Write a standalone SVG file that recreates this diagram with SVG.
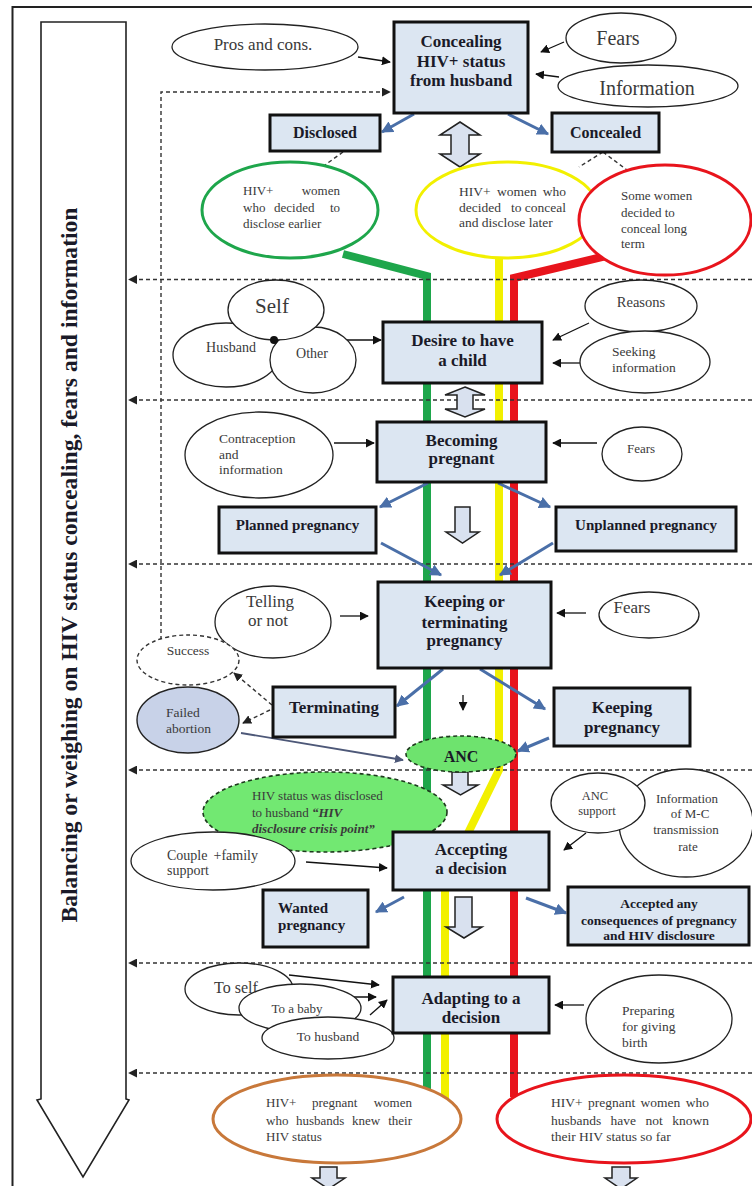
<svg xmlns="http://www.w3.org/2000/svg" width="752" height="1186" viewBox="0 0 752 1186">
<defs>
<style>
.box{fill:#dce6f2;stroke:#111;stroke-width:3}
.ell{fill:#fff;stroke:#222;stroke-width:1.3}
.bt{font-family:"Liberation Serif","Times New Roman",serif;font-weight:bold;fill:#1a1a28;text-anchor:middle}
.t{font-family:"Liberation Serif","Times New Roman",serif;fill:#3a3a3a}
.c{text-anchor:middle}
.e{text-anchor:end}
.blue{stroke:#4a6fa8;stroke-width:3;fill:none;marker-end:url(#ab)}
.thin{stroke:#111;stroke-width:1.3;fill:none;marker-end:url(#ak)}
.dash{stroke:#333;stroke-width:1.4;stroke-dasharray:4 3;fill:none}
.da{marker-end:url(#ad)}
.hollow{fill:#d9e1ef;stroke:#222;stroke-width:1.5}
.band{fill:none;stroke-width:8;stroke-linejoin:miter}
</style>
<marker id="ab" viewBox="0 0 10 10" refX="9" refY="5" markerWidth="12" markerHeight="12" markerUnits="userSpaceOnUse" orient="auto"><path d="M0,0 L10,5 L0,10 z" fill="#4a6fa8"/></marker>
<marker id="ak" viewBox="0 0 10 10" refX="9" refY="5" markerWidth="9" markerHeight="9" markerUnits="userSpaceOnUse" orient="auto"><path d="M0,0 L10,5 L0,10 z" fill="#111"/></marker>
<marker id="ad" viewBox="0 0 10 10" refX="9" refY="5" markerWidth="9" markerHeight="9" markerUnits="userSpaceOnUse" orient="auto"><path d="M0,0 L10,5 L0,10 z" fill="#222"/></marker>
<marker id="as" viewBox="0 0 10 10" refX="9" refY="5" markerWidth="9" markerHeight="9" markerUnits="userSpaceOnUse" orient="auto"><path d="M0,0 L10,5 L0,10 z" fill="#4d5878"/></marker>
</defs>
<rect width="752" height="1186" fill="#fff"/>
<!-- frame -->
<g id="frame">
<path d="M12.5,1186 V7 H752" fill="none" stroke="#222" stroke-width="2"/>
</g>
<!-- big arrow -->
<g id="big-arrow">
<path d="M41,22 H126 V1099 L129,1100 L83,1177 L37,1100 L41,1099 Z" fill="#fff" stroke="#222" stroke-width="1.6"/>
<text class="bt" font-size="23" transform="translate(77,565) rotate(-90)" textLength="715" lengthAdjust="spacingAndGlyphs">Balancing or weighing on HIV status concealing, fears and information</text>
</g>
<!-- colored bands -->
<g id="bands">
<path class="band" stroke="#1ea64b" d="M343,254 L427,276 V1090"/>
<path class="band" stroke="#f2f000" d="M499,258 V770 L445,880 V1104"/>
<path class="band" stroke="#e8141c" d="M606,256 L514,278 V1097"/>
</g>
<!-- connectors -->
<g id="connectors">
<path class="dash da" d="M752,279.5 H129"/>
<path class="dash da" d="M752,400 H129"/>
<path class="dash da" d="M752,564 H129"/>
<path class="dash da" d="M752,770 H129"/>
<path class="dash da" d="M752,963 H129"/>
<path class="dash da" d="M752,1073 H129"/>
<path class="dash da" d="M161,647 V92 H390"/>
<path class="dash" d="M343,152 L325,165"/>
<path class="dash" d="M603,152 L579,167"/>
<path class="dash" d="M603,152 L631,173"/>
<path class="dash da" d="M272,705 L234,673"/>
<path class="dash da" d="M270,710 L243,723"/>
<path class="thin" d="M358,57 L390,62"/>
<path class="thin" d="M564,42 L541,52"/>
<path class="thin" d="M559,77 L536,74"/>
<path class="thin" d="M274,340 H381"/>
<path class="thin" d="M589,323 L553,340"/>
<path class="thin" d="M580,363 H553"/>
<path class="thin" d="M334,443 H374"/>
<path class="thin" d="M597,443 H553"/>
<path class="thin" d="M340,616 H368"/>
<path class="thin" d="M586,613 H557"/>
<path class="thin" d="M463,695 V710"/>
<path class="thin" d="M306,862 L387,868"/>
<path class="thin" d="M586,833 L564,850"/>
<path class="thin" d="M699,840 V860"/>
<path class="thin" d="M289,975 L379,985"/>
<path class="thin" d="M333,997 H376"/>
<path class="thin" d="M370,1015 L387,1000"/>
<path class="thin" d="M584,1005 H555"/>
<path d="M241,733 L403,760" stroke="#4d5878" stroke-width="1.8" fill="none" marker-end="url(#as)"/>
<path class="blue" d="M414,114 L382,132"/>
<path class="blue" d="M508,114 L548,134"/>
<path class="blue" d="M428,483 L380,507"/>
<path class="blue" d="M498,483 L550,507"/>
<path class="blue" d="M381,543 L441,575"/>
<path class="blue" d="M553,543 L500,575"/>
<path class="blue" d="M443,669 L397,706"/>
<path class="blue" d="M480,669 L545,709"/>
<path class="blue" d="M549,738 L518,751"/>
<path class="blue" d="M404,897 L376,912"/>
<path class="blue" d="M526,898 L566,913"/>
<polygon class="hollow" points="460,122 480,135 469,135 469,154 480,154 460,167 440,154 451,154 451,135 440,135"/>
<polygon class="hollow" points="465,387 485,395 473,395 473,409 485,409 465,417 445,409 457,409 457,395 445,395"/>
<polygon class="hollow" points="455,507 470,507 470,532 479,532 462.5,543 446,532 455,532"/>
<polygon class="hollow" points="452,772 468,772 468,785 478,785 460.5,795 443,785 452,785"/>
<polygon class="hollow" points="455,897 472,897 472,927 482,927 464,938 446,927 455,927"/>
<polygon class="hollow" points="320,1167 337,1167 337,1178 345,1178 328.5,1189 312,1178 320,1178"/>
<polygon class="hollow" points="612,1167 630,1167 630,1178 637,1178 621,1189 605,1178 612,1178"/>
</g>
<!-- nodes -->
<g id="n-pros"><ellipse class="ell" cx="265" cy="47" rx="93" ry="23"/><text class="t c" x="263" y="50" font-size="17">Pros and cons.</text></g>
<g id="n-concealing"><rect class="box" x="394" y="22" width="134" height="91"/><text class="bt" font-size="17"><tspan x="461" y="47">Concealing</tspan><tspan x="461" y="67">HIV+ status</tspan><tspan x="461" y="86">from husband</tspan></text></g>
<g id="n-fears1"><ellipse class="ell" cx="621" cy="38" rx="55" ry="25"/><text class="t c" x="618" y="45" font-size="20">Fears</text></g>
<g id="n-info1"><ellipse class="ell" cx="648" cy="86" rx="90" ry="21"/><text class="t c" x="647" y="95" font-size="20">Information</text></g>
<g id="n-disclosed"><rect class="box" x="270" y="115" width="110" height="36"/><text class="bt" x="325" y="138" font-size="16">Disclosed</text></g>
<g id="n-concealed"><rect class="box" x="552" y="113" width="107" height="39"/><text class="bt" x="605.5" y="138" font-size="16">Concealed</text></g>
<g id="n-green"><ellipse cx="290" cy="210" rx="88" ry="48" fill="#fff" stroke="#1ea64b" stroke-width="3"/><text class="t" font-size="13"><tspan x="243" y="195">HIV+</tspan><tspan class="e" x="340" y="195">women</tspan><tspan x="243" y="212">who</tspan><tspan x="274" y="212">decided</tspan><tspan class="e" x="340" y="212">to</tspan><tspan x="243" y="228">disclose earlier</tspan></text></g>
<g id="n-yellow"><ellipse cx="507" cy="210" rx="91" ry="48" fill="#fff" stroke="#f2f000" stroke-width="3"/><text class="t" font-size="13.5"><tspan x="459" y="196">HIV+</tspan><tspan x="497" y="196">women</tspan><tspan class="e" x="566" y="196">who</tspan><tspan x="459" y="212">decided</tspan><tspan x="511" y="212">to</tspan><tspan class="e" x="566" y="212">conceal</tspan><tspan x="459" y="227">and disclose later</tspan></text></g>
<g id="n-red1"><ellipse cx="665" cy="220" rx="86" ry="55" fill="#fff" stroke="#e8141c" stroke-width="3"/><text class="t" font-size="13"><tspan x="621" y="200">Some women</tspan><tspan x="621" y="217">decided to</tspan><tspan x="621" y="233">conceal long</tspan><tspan x="621" y="248">term</tspan></text></g>
<g id="n-self"><ellipse class="ell" cx="226" cy="355" rx="53" ry="32"/><ellipse class="ell" cx="313" cy="360" rx="43" ry="33"/><ellipse class="ell" cx="276" cy="310" rx="48" ry="30"/><circle cx="274" cy="340" r="4" fill="#111"/><text class="t c" x="272" y="313" font-size="21">Self</text><text class="t c" x="231" y="352" font-size="14">Husband</text><text class="t c" x="312" y="358" font-size="14">Other</text></g>
<g id="n-desire"><rect class="box" x="383" y="322" width="159" height="61"/><text class="bt" font-size="17"><tspan x="462.5" y="346">Desire to have</tspan><tspan x="462.5" y="366">a child</tspan></text></g>
<g id="n-reasons"><ellipse class="ell" cx="641" cy="306" rx="56" ry="26"/><text class="t c" x="641" y="307" font-size="14.5">Reasons</text></g>
<g id="n-seeking"><ellipse class="ell" cx="645" cy="362" rx="65" ry="31"/><text class="t" font-size="13.5"><tspan x="612" y="356">Seeking</tspan><tspan x="612" y="372">information</tspan></text></g>
<g id="n-contra"><ellipse class="ell" cx="259" cy="455" rx="74" ry="43"/><text class="t" font-size="13.5"><tspan x="219" y="443">Contraception</tspan><tspan x="219" y="459">and</tspan><tspan x="219" y="474">information</tspan></text></g>
<g id="n-becoming"><rect class="box" x="377" y="422" width="169" height="60"/><text class="bt" font-size="17"><tspan x="461.5" y="446">Becoming</tspan><tspan x="461.5" y="464">pregnant</tspan></text></g>
<g id="n-fears2"><ellipse class="ell" cx="642" cy="454" rx="40" ry="27"/><text class="t c" x="641" y="453" font-size="13">Fears</text></g>
<g id="n-planned"><rect class="box" x="219" y="507" width="157" height="46"/><text class="bt" x="297.5" y="530" font-size="15">Planned pregnancy</text></g>
<g id="n-unplanned"><rect class="box" x="556" y="507" width="180" height="44"/><text class="bt" x="646" y="530" font-size="15">Unplanned pregnancy</text></g>
<g id="n-telling"><ellipse class="ell" cx="273" cy="622" rx="58" ry="36"/><text class="t c" font-size="17"><tspan x="270" y="607">Telling</tspan><tspan x="268" y="626">or not</tspan></text></g>
<g id="n-keeping-or"><rect class="box" x="378" y="582" width="173" height="86"/><text class="bt" font-size="17"><tspan x="464.5" y="607">Keeping or</tspan><tspan x="464.5" y="628">terminating</tspan><tspan x="464.5" y="646">pregnancy</tspan></text></g>
<g id="n-fears3"><ellipse class="ell" cx="649" cy="615" rx="50" ry="23"/><text class="t c" x="632" y="613" font-size="17">Fears</text></g>
<g id="n-success"><ellipse cx="188" cy="660" rx="51" ry="25" fill="#fff" stroke="#333" stroke-width="1.4" stroke-dasharray="4 3"/><text class="t c" x="188" y="655" font-size="13.5" fill="#555">Success</text></g>
<g id="n-failed"><ellipse cx="188" cy="720" rx="51" ry="33" fill="#c8d2e8" stroke="#222" stroke-width="1.4"/><text class="t" font-size="13.5"><tspan x="166" y="717">Failed</tspan><tspan x="166" y="733">abortion</tspan></text></g>
<g id="n-terminating"><rect class="box" x="273" y="687" width="122" height="50"/><text class="bt" x="334" y="713" font-size="17">Terminating</text></g>
<g id="n-keeping"><rect class="box" x="554" y="688" width="136" height="58"/><text class="bt" font-size="17"><tspan x="622" y="713">Keeping</tspan><tspan x="622" y="733">pregnancy</tspan></text></g>
<g id="n-anc"><ellipse cx="461" cy="754" rx="55" ry="18" fill="#6ee36e" stroke="#1d3a1d" stroke-width="1.6" stroke-dasharray="4 3"/><text class="bt" x="461" y="762" font-size="16">ANC</text></g>
<g id="n-crisis"><ellipse cx="325" cy="812" rx="122" ry="40" fill="#72e872" stroke="#1d3a1d" stroke-width="1.6" stroke-dasharray="4 3"/><text class="t" font-size="13" fill="#1f3a1f"><tspan x="252" y="800">HIV status was disclosed</tspan><tspan x="252" y="817">to husband <tspan font-weight="bold" font-style="italic">“HIV</tspan></tspan><tspan x="252" y="833" font-weight="bold" font-style="italic">disclosure crisis point”</tspan></text></g>
<g id="n-couple"><ellipse class="ell" cx="213" cy="861" rx="82" ry="29"/><text class="t" font-size="14"><tspan x="167" y="860">Couple</tspan><tspan class="e" x="258" y="860">+family</tspan><tspan x="167" y="875">support</tspan></text></g>
<g id="n-accepting"><rect class="box" x="393" y="832" width="156" height="58"/><text class="bt" font-size="17"><tspan x="471" y="855">Accepting</tspan><tspan x="471" y="874">a decision</tspan></text></g>
<g id="n-mc"><ellipse class="ell" cx="686" cy="823" rx="67" ry="54"/><text class="t c" font-size="13"><tspan x="687" y="803">Information</tspan><tspan x="690" y="818">of M-C</tspan><tspan x="686" y="834">transmission</tspan><tspan x="688" y="851">rate</tspan></text></g>
<g id="n-ancsupport"><ellipse class="ell" cx="598" cy="803" rx="47" ry="30"/><text class="t c" font-size="12.5"><tspan x="595" y="800">ANC</tspan><tspan x="597" y="815">support</tspan></text></g>
<g id="n-wanted"><rect class="box" x="263" y="890" width="105" height="57"/><text class="bt" font-size="15"><tspan x="278" y="913" text-anchor="start">Wanted</tspan><tspan x="278" y="930" text-anchor="start">pregnancy</tspan></text></g>
<g id="n-accepted"><rect class="box" x="568" y="887" width="181" height="58"/><text class="bt" font-size="13.5"><tspan x="659" y="908">Accepted any</tspan><tspan x="659" y="925">consequences of pregnancy</tspan><tspan x="659" y="940">and HIV disclosure</tspan></text></g>
<g id="n-toself"><ellipse class="ell" cx="239" cy="989" rx="54" ry="26"/><text class="t" x="214" y="993" font-size="16">To self</text></g>
<g id="n-tobaby"><ellipse class="ell" cx="300" cy="1008" rx="61" ry="24"/><text class="t c" x="297" y="1013" font-size="13">To a baby</text></g>
<g id="n-tohusband"><ellipse class="ell" cx="328" cy="1038" rx="66" ry="21"/><text class="t c" x="328" y="1041" font-size="13.5">To husband</text></g>
<g id="n-adapting"><rect class="box" x="393" y="977" width="156" height="56"/><text class="bt" font-size="17"><tspan x="471" y="1004">Adapting to a</tspan><tspan x="471" y="1023">decision</tspan></text></g>
<g id="n-preparing"><ellipse class="ell" cx="659" cy="1019" rx="73" ry="44"/><text class="t" font-size="13.5"><tspan x="622" y="1015">Preparing</tspan><tspan x="622" y="1031">for giving</tspan><tspan x="622" y="1047">birth</tspan></text></g>
<g id="n-knew"><ellipse cx="337" cy="1119" rx="124" ry="44" fill="#fff" stroke="#c8783a" stroke-width="3"/><text class="t" font-size="13"><tspan x="266" y="1107">HIV+</tspan><tspan x="312" y="1107">pregnant</tspan><tspan class="e" x="412" y="1107">women</tspan><tspan x="266" y="1125">who</tspan><tspan x="296" y="1125">husbands</tspan><tspan x="352" y="1125">knew</tspan><tspan class="e" x="412" y="1125">their</tspan><tspan x="266" y="1141">HIV status</tspan></text></g>
<g id="n-notknown"><ellipse cx="624" cy="1119" rx="127" ry="44" fill="#fff" stroke="#e8141c" stroke-width="3"/><text class="t" font-size="13.5"><tspan x="551" y="1107">HIV+</tspan><tspan x="588" y="1107">pregnant</tspan><tspan x="640.5" y="1107">women</tspan><tspan class="e" x="709" y="1107">who</tspan><tspan x="551" y="1125">husbands</tspan><tspan x="610.5" y="1125">have</tspan><tspan x="645.5" y="1125">not</tspan><tspan class="e" x="709" y="1125">known</tspan><tspan x="551" y="1141">their HIV status so far</tspan></text></g>
</svg>
